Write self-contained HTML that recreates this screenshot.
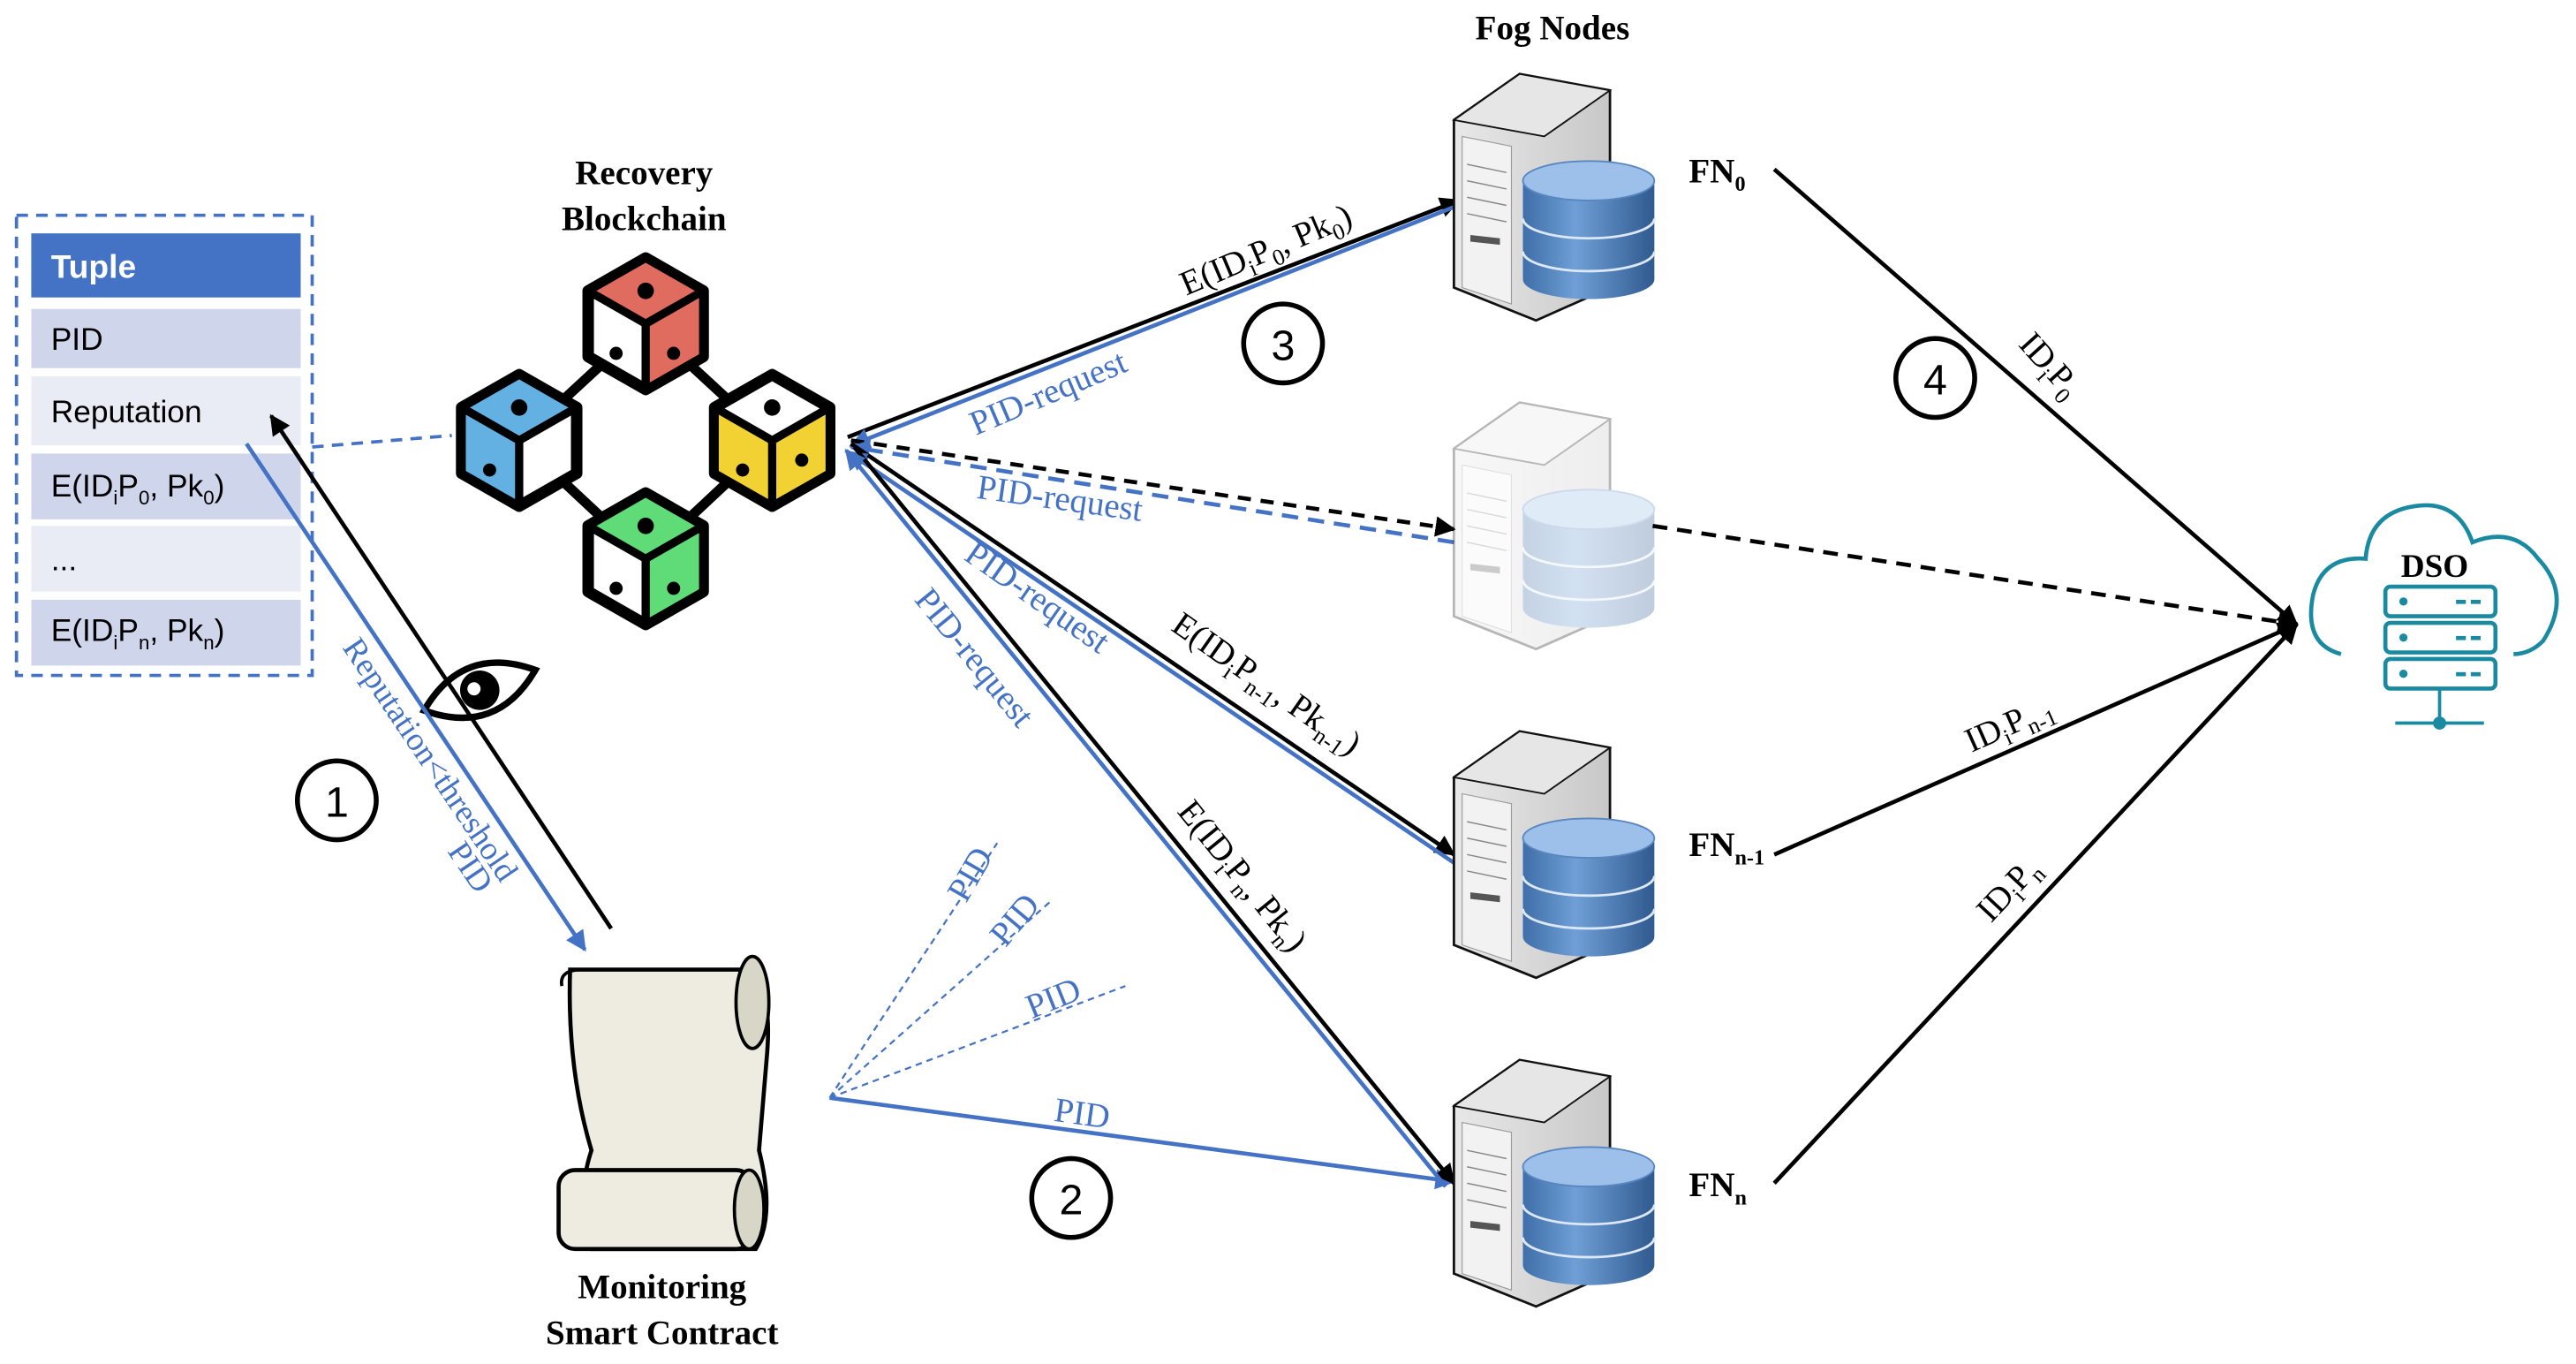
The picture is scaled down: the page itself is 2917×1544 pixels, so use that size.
<!DOCTYPE html>
<html><head><meta charset="utf-8"><style>
html,body{margin:0;padding:0;background:#fff}
svg{display:block}
.s{font-family:"Liberation Serif",serif}
.c{font-family:"Liberation Sans",sans-serif}
</style></head><body>
<svg width="2917" height="1544" viewBox="0 0 1568 830" xmlns="http://www.w3.org/2000/svg">
<defs>
<marker id="ak" viewBox="0 0 10 10" refX="9" refY="5" markerWidth="5" markerHeight="5" orient="auto-start-reverse"><path d="M0,0L10,5L0,10z" fill="#000"/></marker>
<marker id="ab" viewBox="0 0 10 10" refX="9" refY="5" markerWidth="5" markerHeight="5" orient="auto-start-reverse"><path d="M0,0L10,5L0,10z" fill="#4472C4"/></marker>
<linearGradient id="tw" x1="0" x2="1"><stop offset="0" stop-color="#e8e8e8"/><stop offset="1" stop-color="#c8c8c8"/></linearGradient>
<linearGradient id="cy" x1="0" x2="1"><stop offset="0" stop-color="#3f6ea8"/><stop offset="0.4" stop-color="#6f9fd6"/><stop offset="1" stop-color="#2f5a90"/></linearGradient>
<g id="srv">
<path d="M0,28 L40,0 L95,10 L95,130 L50,150 L0,130 Z" fill="url(#tw)" stroke="#111" stroke-width="1.5"/>
<path d="M0,28 L40,0 L95,10 L55,38 Z" fill="#e6e6e6" stroke="#111" stroke-width="1"/>
<path d="M5,38 L35,44 L35,140 L5,130 Z" fill="#f2f2f2" stroke="#999" stroke-width="0.6"/>
<path d="M8,55 L32,60 M8,65 L32,70 M8,75 L32,80 M8,85 L32,90" stroke="#888" stroke-width="0.8"/>
<path d="M10,98 L28,100 L28,104 L10,102Z" fill="#555"/>
<ellipse cx="82" cy="65" rx="40" ry="12" fill="#8fb4e0"/>
<path d="M42,65 L42,125 A40,12 0 0 0 122,125 L122,65" fill="url(#cy)"/>
<ellipse cx="82" cy="65" rx="40" ry="12" fill="#9cc0ea" stroke="#5a86c0"/>
<path d="M42,88 A40,12 0 0 0 122,88 M42,108 A40,12 0 0 0 122,108" stroke="#dde8f6" stroke-width="1.5" fill="none"/>
</g>
<g id="cube">
<path d="M0,-40 L35,-20 L35,20 L0,40 L-35,20 L-35,-20 Z" fill="#fff" stroke="#000" stroke-width="7" stroke-linejoin="round"/>
</g>
</defs>

<rect x="10" y="131" width="180" height="280" fill="none" stroke="#4472C4" stroke-width="2" stroke-dasharray="7,5"/>
<rect x="19" y="142" width="164" height="39" fill="#4472C4"/>
<rect x="19" y="188" width="164" height="36" fill="#CFD5EA"/>
<rect x="19" y="229" width="164" height="42" fill="#E9EBF5"/>
<rect x="19" y="276" width="164" height="40" fill="#CFD5EA"/>
<rect x="19" y="320" width="164" height="40" fill="#E9EBF5"/>
<rect x="19" y="365" width="164" height="40" fill="#CFD5EA"/>
<g class="c" font-size="19" fill="#000">
<text x="31" y="169" fill="#fff" font-weight="bold" font-size="20">Tuple</text>
<text x="31" y="213">PID</text>
<text x="31" y="257">Reputation</text>
<text x="31" y="302">E(ID<tspan font-size="12" dy="5">i</tspan><tspan dy="-5">P</tspan><tspan font-size="12" dy="5">0</tspan><tspan dy="-5">, Pk</tspan><tspan font-size="12" dy="5">0</tspan><tspan dy="-5">)</tspan></text>
<text x="31" y="347">...</text>
<text x="31" y="390">E(ID<tspan font-size="12" dy="5">i</tspan><tspan dy="-5">P</tspan><tspan font-size="12" dy="5">n</tspan><tspan dy="-5">, Pk</tspan><tspan font-size="12" dy="5">n</tspan><tspan dy="-5">)</tspan></text>
</g>
<line x1="190" y1="272" x2="275" y2="265" stroke="#4472C4" stroke-width="2" stroke-dasharray="7,5"/>

<text class="s" x="392" y="112" font-size="21" font-weight="bold" text-anchor="middle">Recovery</text>
<text class="s" x="392" y="140" font-size="21" font-weight="bold" text-anchor="middle">Blockchain</text>
<g stroke="#000" stroke-width="6"><line x1="393" y1="197" x2="316" y2="268"/><line x1="393" y1="197" x2="470" y2="268"/><line x1="316" y1="268" x2="393" y2="340"/><line x1="470" y1="268" x2="393" y2="340"/></g>
<g>
<use href="#cube" x="393" y="197"/><path d="M393,157 L428,177 L393,197 L358,177Z M393,197 L428,177 L428,217 L393,237Z" fill="#E06B5F"/>
<use href="#cube" x="316" y="268"/><path d="M316,228 L351,248 L316,268 L281,248Z M281,248 L316,268 L316,308 L281,288Z" fill="#63B1E3"/>
<use href="#cube" x="470" y="268"/><path d="M435,248 L470,268 L470,308 L435,288Z M470,268 L505,248 L505,288 L470,308Z" fill="#F2D232"/>
<use href="#cube" x="393" y="340"/><path d="M393,300 L428,320 L393,340 L358,320Z M393,340 L428,320 L428,360 L393,380Z" fill="#5FDB77"/>
</g>
<g fill="none" stroke="#000" stroke-width="5" stroke-linejoin="round">
<path d="M393,157 L428,177 L428,217 L393,237 L358,217 L358,177Z M358,177 L393,197 L428,177 M393,197 L393,237"/>
<path d="M316,228 L351,248 L351,288 L316,308 L281,288 L281,248Z M281,248 L316,268 L351,248 M316,268 L316,308"/>
<path d="M470,228 L505,248 L505,288 L470,308 L435,288 L435,248Z M435,248 L470,268 L505,248 M470,268 L470,308"/>
<path d="M393,300 L428,320 L428,360 L393,380 L358,360 L358,320Z M358,320 L393,340 L428,320 M393,340 L393,380"/>
</g>
<g fill="#000"><circle cx="393" cy="177" r="5"/><circle cx="316" cy="248" r="5"/><circle cx="470" cy="248" r="5"/><circle cx="393" cy="320" r="5"/><circle cx="375" cy="215" r="4"/><circle cx="410" cy="215" r="4"/><circle cx="298" cy="286" r="4"/><circle cx="452" cy="286" r="4"/><circle cx="488" cy="280" r="4"/><circle cx="375" cy="358" r="4"/><circle cx="410" cy="358" r="4"/></g>

<g transform="translate(292,420) rotate(-20)">
<path d="M-36,0 Q0,-30 36,0 Q0,30 -36,0Z" fill="#fff" stroke="#000" stroke-width="4"/>
<circle cx="0" cy="0" r="12" fill="#000"/><circle cx="-3" cy="-2" r="4" fill="#fff"/>
</g>

<line x1="372" y1="565" x2="165" y2="253" stroke="#000" stroke-width="2.5" marker-end="url(#ak)"/>
<line x1="150" y1="270" x2="356" y2="578" stroke="#4472C4" stroke-width="2.5" marker-end="url(#ab)"/>
<g class="s" fill="#4472C4" font-size="20">
<text transform="translate(208,394) rotate(56)">Reputation&lt;threshold</text>
<text transform="translate(272,518) rotate(56)">PID</text>
</g>
<circle cx="205" cy="487" r="24" fill="#fff" stroke="#000" stroke-width="3"/>
<text class="c" x="205" y="497" font-size="26" text-anchor="middle">1</text>

<path d="M347,590 L455,590 Q470,600 467,640 L462,700 Q472,740 460,760 L360,760 Q350,730 360,700 Q345,650 347,590Z" fill="#EEECE1" stroke="#000" stroke-width="2.5"/>
<path d="M355,590 Q340,590 342,600" fill="none" stroke="#000" stroke-width="2"/>
<ellipse cx="458" cy="610" rx="10" ry="28" fill="#D8D6C6" stroke="#000" stroke-width="2"/>
<rect x="340" y="712" width="118" height="48" rx="10" fill="#EEECE1" stroke="#000" stroke-width="2.5"/>
<ellipse cx="456" cy="736" rx="9" ry="24" fill="#D8D6C6" stroke="#000" stroke-width="2"/>
<text class="s" x="403" y="790" font-size="21" font-weight="bold" text-anchor="middle">Monitoring</text>
<text class="s" x="403" y="818" font-size="21" font-weight="bold" text-anchor="middle">Smart Contract</text>

<g stroke="#4472C4" stroke-width="1.2" stroke-dasharray="4,3"><line x1="505" y1="668" x2="607" y2="513"/><line x1="505" y1="668" x2="640" y2="548"/><line x1="505" y1="668" x2="685" y2="600"/></g>
<line x1="505" y1="668" x2="885" y2="719" stroke="#4472C4" stroke-width="2.5" marker-end="url(#ab)"/>
<g class="s" fill="#4472C4" font-size="21">
<text transform="translate(588,550) rotate(-60)">PID</text>
<text transform="translate(612,577) rotate(-50)">PID</text>
<text transform="translate(628,620) rotate(-22)">PID</text>
<text transform="translate(641,682) rotate(8)">PID</text>
</g>
<circle cx="652" cy="729" r="24" fill="#fff" stroke="#000" stroke-width="3"/>
<text class="c" x="652" y="739" font-size="26" text-anchor="middle">2</text>

<line x1="516" y1="266" x2="888" y2="122" stroke="#000" stroke-width="2.5" marker-end="url(#ak)"/>
<line x1="885" y1="126" x2="518" y2="271" stroke="#4472C4" stroke-width="2.5" marker-end="url(#ab)"/>
<line x1="518" y1="268" x2="885" y2="322" stroke="#000" stroke-width="2.5" stroke-dasharray="8,6" marker-end="url(#ak)"/>
<line x1="885" y1="330" x2="518" y2="272" stroke="#4472C4" stroke-width="2.5" stroke-dasharray="10,6" marker-end="url(#ab)"/>
<line x1="518" y1="270" x2="885" y2="520" stroke="#000" stroke-width="2.5" marker-end="url(#ak)"/>
<line x1="885" y1="525" x2="516" y2="275" stroke="#4472C4" stroke-width="2.5" marker-end="url(#ab)"/>
<line x1="520" y1="272" x2="885" y2="720" stroke="#000" stroke-width="2.5" marker-end="url(#ak)"/>
<line x1="880" y1="722" x2="515" y2="274" stroke="#4472C4" stroke-width="2.5" marker-end="url(#ab)"/>
<g class="s" font-size="21">
<text fill="#000" transform="translate(722,180) rotate(-23)">E(ID<tspan font-size="14" dy="5">i</tspan><tspan dy="-5">P</tspan><tspan font-size="14" dy="5">0</tspan><tspan dy="-5">, Pk</tspan><tspan font-size="14" dy="5">0</tspan><tspan dy="-5">)</tspan></text>
<text fill="#4472C4" transform="translate(594,265) rotate(-23)">PID-request</text>
<text fill="#4472C4" transform="translate(594,303) rotate(8)">PID-request</text>
<text fill="#4472C4" transform="translate(586,340) rotate(35)">PID-request</text>
<text fill="#4472C4" transform="translate(556,365) rotate(51)">PID-request</text>
<text fill="#000" transform="translate(712,383) rotate(35)">E(ID<tspan font-size="14" dy="5">i</tspan><tspan dy="-5">P</tspan><tspan font-size="14" dy="5">n-1</tspan><tspan dy="-5">, Pk</tspan><tspan font-size="14" dy="5">n-1</tspan><tspan dy="-5">)</tspan></text>
<text fill="#000" transform="translate(716,494) rotate(51)">E(ID<tspan font-size="14" dy="5">i</tspan><tspan dy="-5">P</tspan><tspan font-size="14" dy="5">n</tspan><tspan dy="-5">, Pk</tspan><tspan font-size="14" dy="5">n</tspan><tspan dy="-5">)</tspan></text>
</g>
<circle cx="781" cy="209" r="24" fill="#fff" stroke="#000" stroke-width="3"/>
<text class="c" x="781" y="219" font-size="26" text-anchor="middle">3</text>

<text class="s" x="945" y="24" font-size="21" font-weight="bold" text-anchor="middle">Fog Nodes</text>
<use href="#srv" x="885" y="45"/>
<use href="#srv" x="885" y="245" opacity="0.3"/>
<use href="#srv" x="885" y="445"/>
<use href="#srv" x="885" y="645"/>
<g class="s" font-size="21" font-weight="bold">
<text x="1028" y="111">FN<tspan font-size="13" dy="5">0</tspan></text>
<text x="1028" y="521">FN<tspan font-size="13" dy="5">n-1</tspan></text>
<text x="1028" y="728">FN<tspan font-size="13" dy="5">n</tspan></text>
</g>

<line x1="1080" y1="103" x2="1398" y2="380" stroke="#000" stroke-width="2.5" marker-end="url(#ak)"/>
<line x1="1006" y1="320" x2="1398" y2="380" stroke="#000" stroke-width="2.5" stroke-dasharray="9,6" marker-end="url(#ak)"/>
<line x1="1080" y1="520" x2="1398" y2="380" stroke="#000" stroke-width="2.5" marker-end="url(#ak)"/>
<line x1="1080" y1="720" x2="1398" y2="380" stroke="#000" stroke-width="2.5" marker-end="url(#ak)"/>
<g class="s" font-size="21">
<text transform="translate(1228,210) rotate(48)">ID<tspan font-size="14" dy="5">i</tspan><tspan dy="-5">P</tspan><tspan font-size="14" dy="5">0</tspan></text>
<text transform="translate(1200,458) rotate(-24)">ID<tspan font-size="14" dy="5">i</tspan><tspan dy="-5">P</tspan><tspan font-size="14" dy="5">n-1</tspan></text>
<text transform="translate(1212,562) rotate(-47)">ID<tspan font-size="14" dy="5">i</tspan><tspan dy="-5">P</tspan><tspan font-size="14" dy="5">n</tspan></text>
</g>
<circle cx="1178" cy="230" r="24" fill="#fff" stroke="#000" stroke-width="3"/>
<text class="c" x="1178" y="240" font-size="26" text-anchor="middle">4</text>

<path d="M1425,398 Q1402,392 1408,362 Q1414,338 1440,340 Q1442,312 1470,308 Q1496,304 1505,330 Q1530,320 1545,340 Q1566,362 1548,390 Q1540,398 1530,398" fill="none" stroke="#1A8AA0" stroke-width="2.5"/>
<text class="s" x="1482" y="351" font-size="20" font-weight="bold" text-anchor="middle">DSO</text>
<g fill="#fff" stroke="#1A8AA0" stroke-width="2.5">
<rect x="1452" y="357" width="67" height="18" rx="3"/><rect x="1452" y="379" width="67" height="18" rx="3"/><rect x="1452" y="401" width="67" height="18" rx="3"/>
</g>
<g fill="#1A8AA0"><circle cx="1463" cy="366" r="2.5"/><circle cx="1463" cy="388" r="2.5"/><circle cx="1463" cy="410" r="2.5"/>
<rect x="1495" y="365" width="6" height="2.5"/><rect x="1504" y="365" width="6" height="2.5"/><rect x="1495" y="387" width="6" height="2.5"/><rect x="1504" y="387" width="6" height="2.5"/><rect x="1495" y="409" width="6" height="2.5"/><rect x="1504" y="409" width="6" height="2.5"/></g>
<line x1="1485" y1="419" x2="1485" y2="440" stroke="#1A8AA0" stroke-width="2"/>
<line x1="1458" y1="440" x2="1512" y2="440" stroke="#1A8AA0" stroke-width="2"/>
<circle cx="1485" cy="440" r="4" fill="#1A8AA0"/>
</svg>
</body></html>
